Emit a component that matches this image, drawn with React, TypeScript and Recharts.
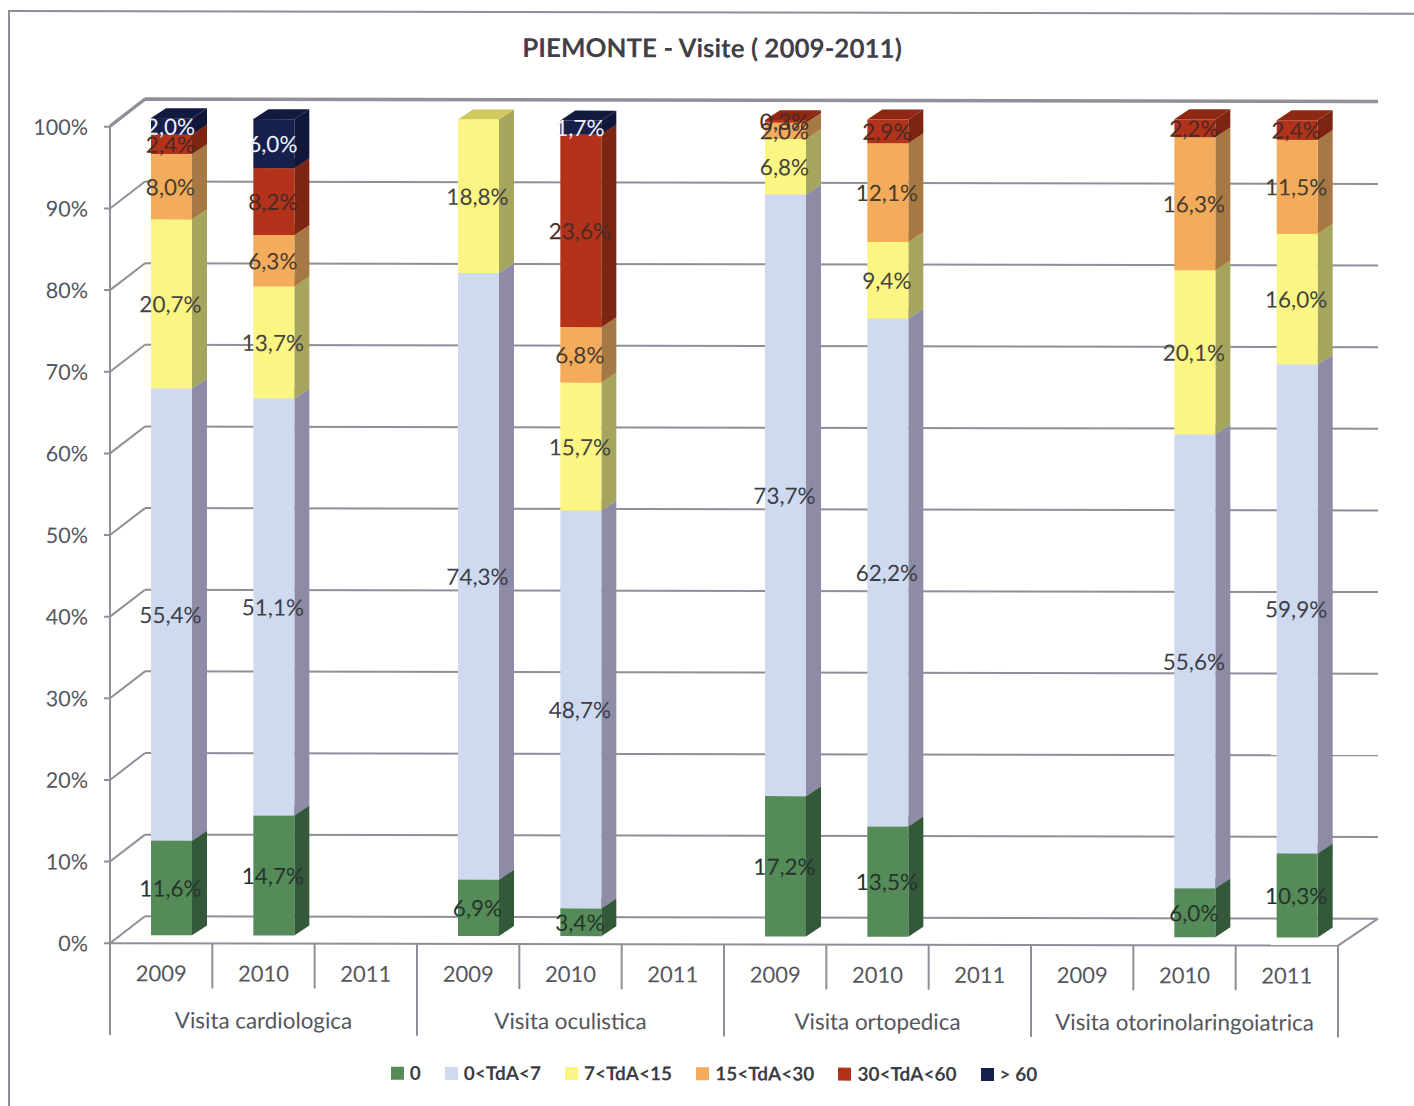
import React from 'react';
import {
  BarChart,
  Bar,
  XAxis,
  YAxis,
  CartesianGrid,
  Legend,
  LabelList,
} from 'recharts';

const years = ['2009', '2010', '2011', '2009', '2010', '2011', '2009', '2010', '2011', '2009', '2010', '2011'];
const visits = ['Visita cardiologica', 'Visita oculistica', 'Visita ortopedica', 'Visita otorinolaringoiatrica'];

const zero = [11.6, 14.7, null, 6.9, 3.4, null, 17.2, 13.5, null, null, 6.0, 10.3];
const upTo7 = [55.4, 51.1, null, 74.3, 48.7, null, 73.7, 62.2, null, null, 55.6, 59.9];
const upTo15 = [20.7, 13.7, null, 18.8, 15.7, null, 6.8, 9.4, null, null, 20.1, 16.0];
const upTo30 = [8.0, 6.3, null, null, 6.8, null, 2.0, 12.1, null, null, 16.3, 11.5];
const upTo60 = [2.4, 8.2, null, null, 23.6, null, 0.3, 2.9, null, null, 2.2, 2.4];
const over60 = [2.0, 6.0, null, null, 1.7, null, null, null, null, null, null, null];

const yTicks = [0, 10, 20, 30, 40, 50, 60, 70, 80, 90, 100];

const W = 1414;
const H = 1106;
const MARGIN = { top: 125, right: 76, bottom: 71, left: 0 };
const AXIS_W = 110;
const BAND = (W - AXIS_W - MARGIN.right) / years.length;

// the bars stand in the middle of the floor, the grid on the back wall
const BAR_DX = 10;
const BAR_DY = -8;
const DEPTH_X = 15;
const DEPTH_Y = 10;
const WALL_DX = 35;
const WALL_DY = -27;
const FLOOR_DX = 40;

const LINE = '#8f8f99';
const TEXT = '#55565c';
const FONT = 'Lato, sans-serif';

const chartData = years.map((year, i) => ({
  year,
  visit: visits[Math.floor(i / 3)],
  zero: zero[i],
  upTo7: upTo7[i],
  upTo15: upTo15[i],
  upTo30: upTo30[i],
  upTo60: upTo60[i],
  over60: over60[i],
}));

const series = [
  { key: 'zero', name: '0', front: '#558b58', side: '#33583a', top: '#45734a', label: '#26352c' },
  { key: 'upTo7', name: '0<TdA<7', front: '#cfdaf0', side: '#8d8ba6', top: '#aab4cc', label: '#3c3f48' },
  { key: 'upTo15', name: '7<TdA<15', front: '#fbf584', side: '#a5a55e', top: '#d0c85c', label: '#44443c' },
  { key: 'upTo30', name: '15<TdA<30', front: '#f3ab5c', side: '#a67844', top: '#c98d48', label: '#463c30' },
  { key: 'upTo60', name: '30<TdA<60', front: '#b3321a', side: '#7d2413', top: '#8e2812', label: '#4a2a24' },
  { key: 'over60', name: '> 60', front: '#16204c', side: '#10173a', top: '#121a40', label: '#f0f2f8' },
];

const bar3d = (s: (typeof series)[number]) => (props: any) => {
  const { x, y, width, height } = props;
  if (!height) return <g />;
  const fx = x + BAR_DX;
  const fy = y + BAR_DY;
  const r = fx + width;
  const b = fy + height;
  return (
    <g>
      <path
        d={`M${r},${fy} L${r + DEPTH_X},${fy - DEPTH_Y} L${r + DEPTH_X},${b - DEPTH_Y} L${r},${b} Z`}
        fill={s.side}
      />
      <path
        d={`M${fx},${fy} L${fx + DEPTH_X},${fy - DEPTH_Y} L${r + DEPTH_X},${fy - DEPTH_Y} L${r},${fy} Z`}
        fill={s.top}
      />
      <rect x={fx} y={fy} width={width} height={height} fill={s.front} />
    </g>
  );
};

const barLabel = (color: string) => (props: any) => {
  const { x, y, width, height, value } = props;
  if (value == null) return <g />;
  return (
    <text
      x={x + BAR_DX + width / 2 - 1}
      y={y + BAR_DY + height / 2}
      fill={color}
      fontFamily={FONT}
      fontSize={22.5}
      textAnchor="middle"
      dominantBaseline="central"
    >
      {Number(value).toFixed(1).replace('.', ',')}%
    </text>
  );
};

// grid line = diagonal on the side wall + line across the back wall
const wallLine = (props: any) => {
  const { x1, x2, y1, index } = props;
  const bx = x1 + WALL_DX;
  const by = y1 + WALL_DY;
  const isFloor = y1 > H - 200;
  return (
    <g key={`wall-${index}`} stroke={LINE} strokeWidth={2} fill="none">
      <line x1={x1} y1={y1} x2={bx} y2={by} />
      <line x1={bx} y1={by} x2={x2 + FLOOR_DX} y2={by} />
      {isFloor && <line x1={x2 + FLOOR_DX} y1={by} x2={x2} y2={y1} />}
    </g>
  );
};

const YearTick = (props: any) => {
  const { x, y, index, payload } = props;
  const right = x + BAND / 2;
  const groupEnd = index % 3 === 2;
  return (
    <g>
      {index === 0 && (
        <line x1={x - BAND / 2} y1={y} x2={x - BAND / 2} y2={y + 92} stroke={LINE} strokeWidth={2} />
      )}
      <line x1={right} y1={y} x2={right} y2={y + (groupEnd ? 92 : 45)} stroke={LINE} strokeWidth={2} />
      <text x={x} y={y + 38} textAnchor="middle" fill={TEXT} fontFamily={FONT} fontSize={22}>
        {payload.value}
      </text>
    </g>
  );
};

const VisitTick = (props: any) => {
  const { x, y, index, payload } = props;
  if (index % 3 !== 1) return <g />;
  return (
    <text x={x} y={y + 39} textAnchor="middle" fill={TEXT} fontFamily={FONT} fontSize={22.4}>
      {payload.value}
    </text>
  );
};

const PercentTick = (props: any) => {
  const { x, y, payload } = props;
  return (
    <g>
      <line x1={x - 6} y1={y} x2={x} y2={y} stroke={LINE} strokeWidth={2} />
      <text x={x - 22} y={y} textAnchor="end" dominantBaseline="central" fill={TEXT} fontFamily={FONT} fontSize={21.5}>
        {payload.value}%
      </text>
    </g>
  );
};

const LegendContent = () => (
  <div
    style={{
      display: 'flex',
      justifyContent: 'center',
      gap: 24,
      fontFamily: FONT,
      fontWeight: 700,
      fontSize: 19,
      color: '#3c3d44',
      lineHeight: '24px',
    }}
  >
    {series.map((s) => (
      <span key={s.key} style={{ display: 'flex', alignItems: 'center', gap: 6 }}>
        <span style={{ width: 13, height: 13, background: s.front, display: 'inline-block' }} />
        {s.name}
      </span>
    ))}
  </div>
);

export default function App() {
  return (
    <div
      style={{
        position: 'absolute',
        left: 0,
        top: 0,
        width: W,
        height: H,
        background: '#fff',
        overflow: 'hidden',
      }}
    >
      <div
        style={{
          position: 'absolute',
          left: 0,
          top: 0,
          width: W,
          height: H,
          transform: 'skewY(0.11deg)',
          transformOrigin: '0 0',
        }}
      >
        <div
          style={{
            position: 'absolute',
            left: 8,
            top: 10,
            width: 1440,
            height: 1120,
            border: '2px solid #8d8d9a',
            background: '#fff',
          }}
        />
        <div
          style={{
            position: 'absolute',
            left: 0,
            width: 1424,
            top: 28,
            textAlign: 'center',
            fontFamily: FONT,
            fontWeight: 700,
            fontSize: 26,
            lineHeight: '36px',
            color: '#3f4048',
          }}
        >
          PIEMONTE - Visite ( 2009-2011)
        </div>
        <div style={{ position: 'absolute', left: 0, top: 0 }}>
          <BarChart width={W} height={H} data={chartData} margin={MARGIN} barSize={41}>
            <CartesianGrid horizontal={wallLine} vertical={false} />
            <XAxis
              xAxisId={0}
              dataKey="year"
              interval={0}
              height={46}
              axisLine={{ stroke: LINE, strokeWidth: 2 }}
              tickLine={false}
              tickSize={0}
              tick={<YearTick />}
              tickMargin={0}
            />
            <XAxis
              xAxisId={1}
              dataKey="visit"
              interval={0}
              height={46}
              axisLine={false}
              tickLine={false}
              tickSize={0}
              tick={<VisitTick />}
              tickMargin={0}
            />
            <YAxis
              domain={[0, 100]}
              ticks={yTicks}
              width={AXIS_W}
              axisLine={{ stroke: LINE, strokeWidth: 2 }}
              tickLine={false}
              tickSize={0}
              tick={<PercentTick />}
              tickMargin={0}
            />
            <Legend
              layout="horizontal"
              verticalAlign="middle"
              align="center"
              content={<LegendContent />}
              wrapperStyle={{ top: 1060, left: 0, width: 1428, bottom: 'auto' }}
            />
            {series.map((s) => (
              <Bar
                key={s.key}
                dataKey={s.key}
                name={s.name}
                xAxisId={0}
                stackId="a"
                shape={bar3d(s)}
                isAnimationActive={false}
              >
                <LabelList dataKey={s.key} content={barLabel(s.label)} />
              </Bar>
            ))}
          </BarChart>
        </div>
      </div>
    </div>
  );
}
